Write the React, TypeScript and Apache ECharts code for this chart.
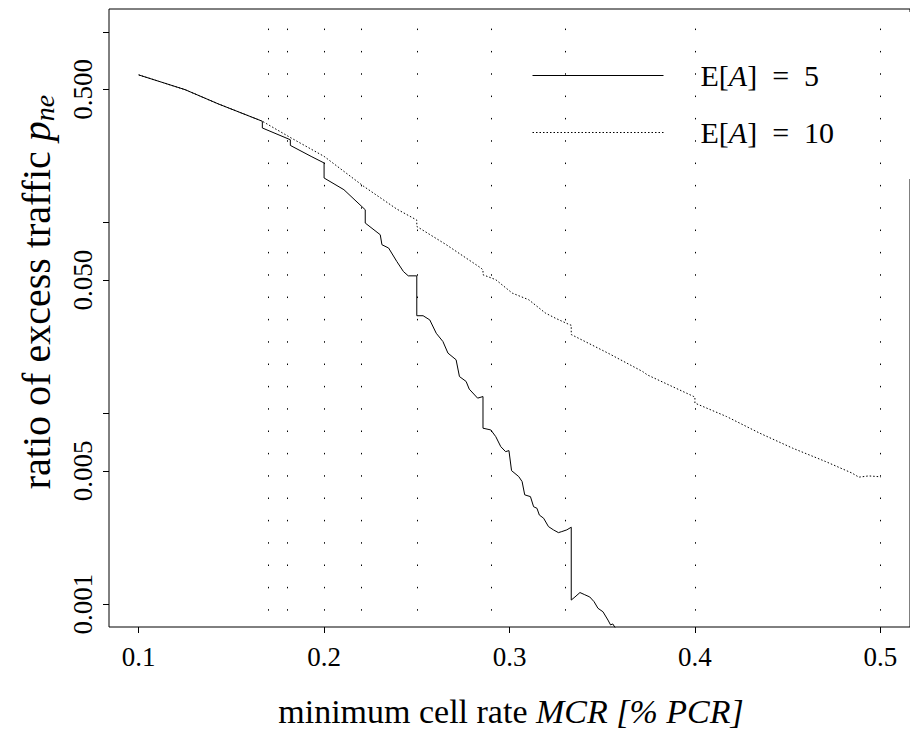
import React, { useEffect, useRef } from "react";
import * as echarts from "echarts";

const xTicks = [0.1, 0.2, 0.3, 0.4, 0.5];
const yTicks = [0.001, 0.005, 0.01, 0.05, 0.1, 0.5, 1];
const yLabels = [0.001, 0.005, 0.05, 0.5];
const refLines = [1 / 6, 2 / 11, 1 / 5, 2 / 9, 1 / 4, 2 / 7, 1 / 3, 2 / 5, 1 / 2];
const seriesNames = ["E[A] = 5", "E[A] = 10"];

// E[A] = 5 : [MCR, p_ne]
const ea5: number[][] = [
  [0.1, 0.595], [0.125, 0.498], [0.143, 0.419], [0.1667, 0.34], [0.1667, 0.3135],
  [0.1818, 0.272], [0.1818, 0.254], [0.193, 0.2225], [0.2, 0.2055], [0.2, 0.1714],
  [0.2107, 0.1488], [0.2222, 0.1168], [0.2222, 0.0995], [0.2303, 0.0864], [0.2312, 0.0766],
  [0.2348, 0.0736], [0.2392, 0.0626], [0.2428, 0.0554], [0.2454, 0.0526], [0.25, 0.0526],
  [0.25, 0.0325], [0.2534, 0.0325], [0.257, 0.0309], [0.2605, 0.0263], [0.2641, 0.0238],
  [0.2668, 0.0207], [0.2712, 0.0191], [0.273, 0.0156], [0.2766, 0.0147], [0.2783, 0.0134],
  [0.2828, 0.01202], [0.2857, 0.01225], [0.2857, 0.00836], [0.2899, 0.00819], [0.2926, 0.00755],
  [0.2953, 0.00669], [0.2979, 0.0063], [0.2997, 0.00638], [0.3011, 0.00501], [0.305, 0.00466],
  [0.3068, 0.00439], [0.3082, 0.00374], [0.3113, 0.00366], [0.313, 0.00324], [0.3148, 0.00318],
  [0.3161, 0.00293], [0.3184, 0.00282], [0.321, 0.00255], [0.3237, 0.00245], [0.3264, 0.00237],
  [0.3282, 0.0024], [0.3309, 0.00245], [0.3333, 0.00253], [0.3333, 0.00105], [0.3353, 0.00109],
  [0.338, 0.00115], [0.3406, 0.00112], [0.3433, 0.00109], [0.3456, 0.00103], [0.3477, 0.000951],
  [0.3504, 0.000912], [0.3531, 0.000825], [0.3545, 0.000778], [0.3557, 0.000787], [0.357, 0.000752],
  [0.359, 0.00068],
];

// E[A] = 10 : [MCR, p_ne]
const ea10: number[][] = [
  [0.1, 0.595], [0.125, 0.498], [0.143, 0.419], [0.1667, 0.34], [0.1822, 0.278],
  [0.2, 0.2225], [0.2214, 0.1549], [0.2392, 0.1178], [0.249, 0.1044], [0.25, 0.103],
  [0.25, 0.0955], [0.2659, 0.0766], [0.2846, 0.0578], [0.2857, 0.0565], [0.2857, 0.0533],
  [0.2926, 0.0502], [0.3015, 0.0427], [0.3104, 0.0394], [0.3193, 0.0336], [0.3246, 0.0316],
  [0.3326, 0.0291], [0.3333, 0.029], [0.3333, 0.0259], [0.3531, 0.0207], [0.3718, 0.01657],
  [0.3744, 0.0159], [0.3994, 0.01225], [0.4, 0.0122], [0.4, 0.01132], [0.4171, 0.00962],
  [0.435, 0.00787], [0.4527, 0.00657], [0.4705, 0.00559], [0.4848, 0.00486], [0.4884, 0.00463],
  [0.4937, 0.0047], [0.499, 0.00466], [0.5, 0.00462],
];

const FONT = "Liberation Serif";

export default function App() {
  const ref = useRef<HTMLDivElement>(null);
  useEffect(() => {
    const chart = echarts.init(ref.current!, null, { renderer: "svg" });
    const toLog = (d: number[][]) => d.map(([x, y]) => [x, Math.log10(y)]);
    chart.setOption({
      animation: false,
      backgroundColor: "#fff",
      textStyle: { fontFamily: FONT },
      grid: {
        left: 109, top: 9, width: 808, height: 618,
        show: true, borderColor: "#000", borderWidth: 1, backgroundColor: "transparent",
      },
      xAxis: {
        type: "value", min: 0.084, max: 0.516,
        axisLine: { show: false, onZero: false }, splitLine: { show: false },
        axisTick: { show: true, length: 6, lineStyle: { color: "#000", width: 1 }, customValues: xTicks },
        axisLabel: {
          customValues: xTicks, fontFamily: FONT, fontSize: 27, color: "#000", margin: 16,
          formatter: (v: number) => v.toFixed(1),
        },
      },
      yAxis: {
        type: "value", min: -3.12, max: 0.12,
        axisLine: { show: false, onZero: false }, splitLine: { show: false },
        axisTick: { show: true, length: 6, lineStyle: { color: "#000", width: 1 }, customValues: yTicks.map((v) => Math.log10(v)) },
        axisLabel: {
          customValues: yLabels.map((v) => Math.log10(v)), rotate: 90,
          fontFamily: FONT, fontSize: 27, color: "#000", margin: 13,
          formatter: (v: number) => Math.pow(10, v).toFixed(3),
        },
      },
      legend: {
        data: seriesNames,
        orient: "vertical", left: 500, top: 12,
        padding: [48, 80, 31, 32],
        itemWidth: 131, itemHeight: 14, itemGap: 26,
        backgroundColor: "#fff",
        selectedMode: false,
        itemStyle: { color: "rgba(0,0,0,0)", borderWidth: 0, opacity: 0 },
        lineStyle: { width: 1 },
        formatter: (name: string) => {
          const m = name.match(/^E\[A\] = (\d+)$/);
          return m ? `{r|E[}{i|A}{r|]  =  ${m[1]}}` : name;
        },
        textStyle: {
          fontFamily: FONT, fontSize: 30, lineHeight: 31, color: "#000", padding: [0, 0, 0, 32],
          rich: {
            r: { fontFamily: FONT, fontSize: 30, lineHeight: 31, color: "#000" },
            i: { fontFamily: FONT, fontSize: 30, lineHeight: 31, fontStyle: "italic", color: "#000" },
          },
        },
      },
      graphic: [
        {
          type: "text", x: 511, y: 711, z: 10,
          style: {
            text: "{a|minimum cell rate }{b|MCR [% PCR]}",
            align: "center", verticalAlign: "middle",
            rich: {
              a: { fontFamily: FONT, fontSize: 34, fill: "#000", color: "#000" },
              b: { fontFamily: FONT, fontSize: 34, fontStyle: "italic", fill: "#000", color: "#000" },
            },
          },
        },
        {
          type: "text", x: 36, y: 292, rotation: Math.PI / 2, z: 10,
          style: {
            text: "{a|ratio of excess traffic }{b|p}{c|ne}",
            align: "center", verticalAlign: "middle",
            rich: {
              a: { fontFamily: FONT, fontSize: 40, fill: "#000", color: "#000" },
              b: { fontFamily: FONT, fontSize: 40, fontStyle: "italic", fill: "#000", color: "#000" },
              c: { fontFamily: FONT, fontSize: 28, fontStyle: "italic", fill: "#000", color: "#000", padding: [16, 0, 0, 0] },
            },
          },
        },
      ],
      series: [
        {
          name: seriesNames[0], type: "line", data: toLog(ea5), symbol: "none", showSymbol: false,
          lineStyle: { color: "#000", width: 1 }, itemStyle: { color: "#000" }, clip: true,
          markLine: {
            silent: true, symbol: ["none", "none"], label: { show: false },
            lineStyle: { color: "#000", width: 1, type: [1.5, 20.83], dashOffset: 6 },
            emphasis: { disabled: true },
            data: refLines.map((x) => ({ xAxis: x })),
          },
        },
        {
          name: seriesNames[1], type: "line", data: toLog(ea10), symbol: "none", showSymbol: false,
          lineStyle: { color: "#000", width: 1, type: [1.5, 2] }, itemStyle: { color: "#000" }, clip: true,
        },
      ],
    });
    return () => chart.dispose();
  }, []);
  return <div ref={ref} style={{ position: "fixed", left: 0, top: 0, width: 910, height: 730 }} />;
}
